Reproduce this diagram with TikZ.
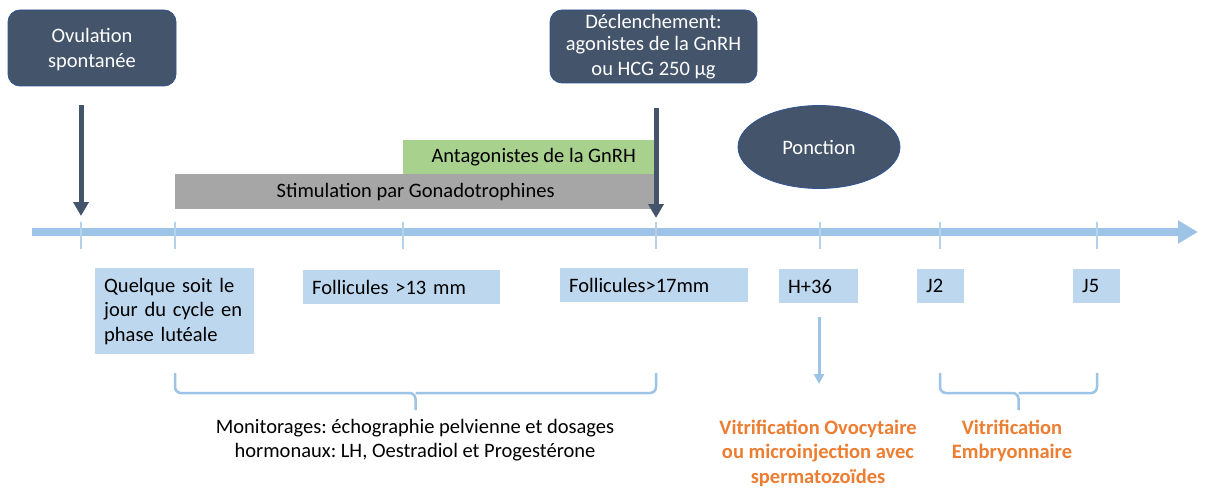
\documentclass[tikz,border=0pt]{standalone}
\usepackage{fontspec}
\setmainfont{Carlito}
\usetikzlibrary{arrows.meta,shapes.geometric}
\definecolor{dark}{HTML}{44546A}
\definecolor{darkedge}{HTML}{2F5597}
\definecolor{tline}{HTML}{9DC3E6}
\definecolor{tick}{HTML}{B4D2EC}
\definecolor{lblue}{HTML}{BDD7EE}
\definecolor{grayb}{HTML}{A6A6A6}
\definecolor{greenb}{HTML}{A9D18E}
\definecolor{orng}{HTML}{ED7D31}
\frenchspacing
\begin{document}
\begin{tikzpicture}[x=1pt,y=-1pt,
  every node/.style={font=\fontsize{20.5}{24.5}\selectfont\frenchspacing, inner sep=0pt},
  darkbox/.style={draw=darkedge, line width=0.8pt, fill=dark, rounded corners=12pt, text=white, align=center},
  bar/.style={anchor=north west, align=center},
  lbox/.style={fill=lblue, anchor=north west, align=left, inner xsep=9pt, inner ysep=0pt},
  darkarrow/.style={draw=dark, line width=5pt, -{Triangle[width=15pt,length=14pt]}},
  lightarrow/.style={draw=tline, line width=3pt, -{Triangle[width=10pt,length=10pt]}},
  ticks/.style={draw=tick, line width=2pt},
  brace/.style={draw=tline, line width=2.5pt, rounded corners=6pt},
  otext/.style={text=orng, font=\fontsize{20.5}{24.5}\selectfont\bfseries\frenchspacing, align=center}
]
\useasboundingbox (0,0) rectangle (1207,492);
\fill[white] (0,0) rectangle (1207,492);

% top boxes
\node[darkbox, minimum width=168pt, minimum height=76pt] (ovul) at (92,48) {\strut Ovulation\\spontanée};
\node[darkbox, minimum width=207pt, minimum height=73pt] (decl) at (653.5,46.5) {\raisebox{-2pt}{Déclenchement:}\\[-0.5pt]agonistes de la GnRH\\ou HCG 250 µg};
\node[ellipse, draw=darkedge, line width=0.8pt, fill=dark, text=white, minimum width=162pt, minimum height=83pt] (ponc) at (819,147) {Ponction};

% bars
\node[bar, fill=greenb, minimum width=253pt, minimum height=34pt] (anta) at (403,140) {\hspace*{8pt}Antagonistes de la GnRH};
\node[bar, fill=grayb, minimum width=481pt, minimum height=35pt] (stim) at (175,174) {Stimulation par Gonadotrophines};

% timeline
\coordinate (tl0) at (32,232);
\coordinate (tl1) at (1198,232);
\draw[draw=tline, line width=8pt, -{Triangle[width=22pt,length=20pt]}] (tl0) -- (tl1);
\foreach \x/\n in {81/a,175/b,403/c,656/d,820/e,940/f,1097/g}{
  \coordinate (tk\n t) at (\x,222);
  \coordinate (tk\n b) at (\x,249);
  \draw[ticks] (tk\n t) -- (tk\n b);
}

% dark arrows
\coordinate (a1s) at (81,105);
\coordinate (a1e) at (81,216);
\draw[darkarrow] (a1s) -- (a1e);
\coordinate (a2s) at (656,108);
\coordinate (a2e) at (656,218);
\draw[darkarrow] (a2s) -- (a2e);

% light boxes
\node[lbox, minimum width=159pt, minimum height=86pt, text width=141pt] (quel) at (95,268) {Quelque soit le\\jour du cycle en\\phase lutéale};
\node[lbox, minimum width=197pt, minimum height=34pt, text width=179pt] (f13) at (303,270) {Follicules >13 mm};
\node[lbox, minimum width=188pt, minimum height=34pt, text width=170pt] (f17) at (560,268) {Follicules>17mm};
\node[lbox, minimum width=79pt, minimum height=34pt, text width=61pt] (h36) at (779,269) {H+36};
\node[lbox, minimum width=47pt, minimum height=34pt, text width=29pt] (j2) at (917,269) {J2};
\node[lbox, minimum width=47pt, minimum height=34pt, text width=29pt] (j5) at (1073,269) {J5};

% light arrow
\coordinate (a3s) at (819,317);
\coordinate (a3e) at (819,384);
\draw[lightarrow] (a3s) -- (a3e);

% braces
\draw[brace] (175,373) -- (175,393) -- (415.5,393) -- (415.5,410);
\draw[brace] (656,373) -- (656,393) -- (415.5,393);
\draw[brace] (940,373) -- (940,393) -- (1018.5,393) -- (1018.5,410);
\draw[brace] (1097,373) -- (1097,393) -- (1018.5,393);

% texts
\node[align=center] (moni) at (415,440) {Monitorages: échographie pelvienne et dosages\\hormonaux: LH, Oestradiol et Progestérone};
\node[otext] (vovo) at (818,453) {Vitrification Ovocytaire\\ou microinjection avec\\spermatozoïdes};
\node[otext] (vemb) at (1012,441) {Vitrification\\Embryonnaire};
\end{tikzpicture}
\end{document}
